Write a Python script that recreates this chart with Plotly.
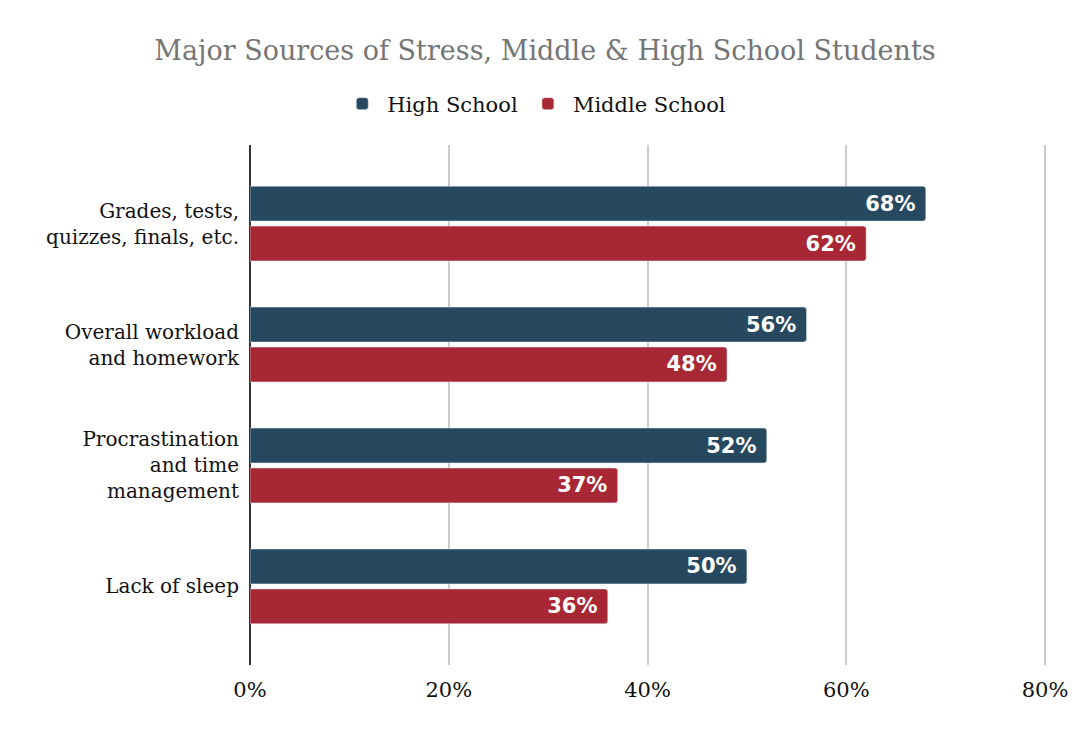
import plotly.graph_objects as go

categories = ["Grades, tests,<br>quizzes, finals, etc.", "Overall workload<br>and homework",
              "Procrastination<br>and time<br>management", "Lack of sleep"]
high_school = [68, 56, 52, 50]
middle_school = [62, 48, 37, 36]
x_ticks = [0, 20, 40, 60, 80]
x_tick_labels = ["0%", "20%", "40%", "60%", "80%"]

serif = "DejaVu Serif, Liberation Serif, serif"
label_font = dict(family="DejaVu Sans, Liberation Sans, sans-serif", size=21, color="white", weight="bold")

fig = go.Figure()
fig.add_trace(go.Bar(
    y=categories, x=high_school, orientation="h", name="High School",
    marker=dict(color="#26495f"),
    text=[f"{v}%\u00a0" for v in high_school], textposition="inside", insidetextanchor="end",
    textfont=label_font,
))
fig.add_trace(go.Bar(
    y=categories, x=middle_school, orientation="h", name="Middle School",
    marker=dict(color="#a72834"),
    text=[f"{v}%\u00a0" for v in middle_school], textposition="inside", insidetextanchor="end",
    textfont=label_font,
))

fig.update_layout(
    width=1074, height=734,
    margin=dict(l=242, r=27, t=137, b=77),
    paper_bgcolor="white", plot_bgcolor="white",
    barmode="group", bargap=0.34, bargroupgap=0.125, barcornerradius=3,
    title=dict(text="Major Sources of Stress, Middle & High School Students",
               x=0.5, xref="container", xanchor="center", y=1 - 43 / 734, yanchor="middle",
               font=dict(family=serif, size=27, color="#757575")),
    legend=dict(orientation="h", xref="container", x=0.49, xanchor="center",
                yref="container", y=1 - 96 / 734, yanchor="middle",
                font=dict(family=serif, size=21, color="#111111"), traceorder="normal",
                itemwidth=40),
    uniformtext=dict(mode="show", minsize=10),
)
fig.update_xaxes(
    range=[0, 81], tickvals=x_ticks, ticktext=x_tick_labels,
    showgrid=True, gridcolor="#cccccc", gridwidth=1.5,
    zeroline=True, zerolinecolor="#333333", zerolinewidth=2,
    tickfont=dict(family=serif, size=21, color="#111111"),
    ticks="", ticklabelstandoff=10, fixedrange=True,
)
fig.update_yaxes(
    autorange=False, range=[3.65, -0.65], showgrid=False,
    tickfont=dict(family=serif, size=20, color="#111111"),
    ticks="", ticklabelstandoff=10, fixedrange=True,
)

fig.write_html("out.html")
